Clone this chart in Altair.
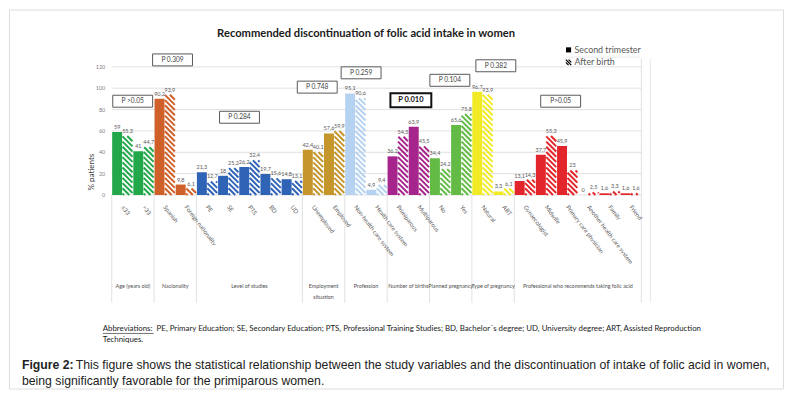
import altair as alt
import pandas as pd

# ---------------- data ----------------
groups = ["Age (years old)", "Nacionality", "Level of studies", "Employment", "Profession",
          "Number of births", "Planned pregnancy", "Type of pregnancy",
          "Professional who recommends taking folic acid"]
groups_line2 = ["", "", "", "situation", "", "", "", "", ""]
group_sizes = [2, 2, 5, 2, 2, 2, 2, 2, 6]
group_colors = ["#22a84a", "#d0602a", "#2f63b6", "#c4962b", "#b5d2f0",
                "#a6258c", "#63bb46", "#f2ea24", "#e3262b"]
categories = ["≤33", ">33", "Spanish", "Foreign nationality", "PE", "SE", "PTS", "BD", "UD",
              "Unemployed", "Employed", "Non-health care system", "Health care system",
              "Primiparous", "Multiparous", "No", "Yes", "Natural", "ART",
              "Gynaecologist", "Midwife", "Primary care physician", "Another health care system",
              "Family", "Friend"]
second_trimester = [59, 41, 90.2, 9.8, 21.3, 18, 26.2, 19.7, 14.8, 42.4, 57.6, 95.1, 4.9,
                    36.2, 63.9, 34.4, 65.6, 96.7, 3.3, 13.1, 37.7, 45.9, 0, 1.6, 1.6]
after_birth = [55.3, 44.7, 93.9, 6.1, 12.7, 25.2, 32.4, 15.6, 13.1, 40.1, 59.9, 90.6, 9.4,
               54.5, 45.5, 24.2, 75.8, 93.9, 6.1, 14.3, 55.3, 23, 2.5, 3.3, 1.6]
p_labels = ["P >0.05", "P 0.309", "P 0.284", "P 0.748", "P 0.259", "P 0.010",
            "P 0.104", "P 0.382", "P>0.05"]
p_bold = [False, False, False, False, False, True, False, False, False]
p_x = [0.99, 2.87, 6.03, 9.70, 11.77, 14.12, 15.96, 18.13, 21.19]   # category units
p_y = [87.8, 126.5, 72.8, 101, 114.4, 88.7, 107.4, 121, 87.8]       # % units
y_ticks = [0, 20, 40, 60, 80, 100, 120]

title_text = "Recommended discontinuation of folic acid intake in women"
legend_labels = ["Second trimester", "After birth"]
y_title = "% patients"
abbr_head = "Abbreviations:"
abbr_line1 = ("PE, Primary Education; SE, Secondary Education; PTS, Professional Training Studies; "
              "BD, Bachelor´s degree; UD, University degree; ART, Assisted Reproduction")
abbr_line2 = "Techniques."
caption_head = "Figure 2:"
caption_line1 = ("This figure shows the statistical relationship between the study variables and the "
                 "discontinuation of intake of folic acid in women,")
caption_line2 = "being significantly favorable for the primiparous women."

# ---------------- layout (page pixel positions -> view pixels) ----------------
W, H = 776, 380
OX, OY = 9, 9


def px(x):
    return x - OX


def py(y):
    return y - OY


N = len(categories)
X0, X1 = px(112), px(643)
Y0, Y1 = py(195), py(66.5)
xs = alt.Scale(domain=[0, N], range=[X0, X1], nice=False, zero=False)
ys = alt.Scale(domain=[0, 120], range=[Y0, Y1], nice=False, zero=False)
PPX = (X1 - X0) / N      # pixels per category
PPY = (Y0 - Y1) / 120    # pixels per percent

FONT = "Lato"
cat_group = [g for g, n in enumerate(group_sizes) for _ in range(n)]
cat_color = [group_colors[g] for g in cat_group]


def fmt(v):
    return f"{v:g}".replace(".", ",")


# solid bars
solid = pd.DataFrame({
    "x0": [i + 0.02 for i in range(N)],
    "x1": [i + 0.49 for i in range(N)],
    "v": second_trimester,
    "base": [0] * N,
    "color": cat_color,
})

# hatched bars drawn as clipped diagonal stripes
stripes = []
HW = 0.47
D = HW * PPX / PPY          # drop (in %) across the bar width for a 45 degree stripe
S = 5.2 / PPY               # vertical spacing of stripes
for i, v in enumerate(after_birth):
    if v <= 0:
        continue
    hx0 = i + 0.51
    c = S * 0.3
    while c < v + D:
        t0 = max(0.0, (c - v) / D)
        t1 = min(1.0, c / D)
        if t1 > t0:
            stripes.append({"x": hx0 + t0 * HW, "y": c - D * t0,
                            "x2": hx0 + t1 * HW, "y2": c - D * t1, "color": cat_color[i]})
        c += S
stripes = pd.DataFrame(stripes)

vlabels = pd.DataFrame({
    "x": [i + 0.255 for i in range(N)] + [i + 0.745 for i in range(N)],
    "v": second_trimester + after_birth,
    "t": [fmt(v) for v in second_trimester + after_birth],
})

cats = pd.DataFrame({"x": [i + 0.5 for i in range(N)], "t": categories})

bounds = [0]
for n in group_sizes:
    bounds.append(bounds[-1] + n)
divs = pd.DataFrame({"b": bounds})
glab = pd.DataFrame({"x": [(bounds[k] + bounds[k + 1]) / 2 for k in range(len(groups))],
                     "t": groups, "t2": groups_line2})

pdat = pd.DataFrame({"x": p_x, "y": p_y, "t": p_labels, "bold": p_bold})
pn = pdat[~pdat.bold]
pb = pdat[pdat.bold]

ticks = pd.DataFrame({"t": y_ticks})
one = pd.DataFrame({"a": [0]})


def txt(text, x, y, **kw):
    return alt.Chart(one).mark_text(**kw).encode(
        x=alt.value(px(x)), y=alt.value(py(y)), text=alt.value(text))


def hline(x1, x2, y, color="#d9d9d9", w=0.8):
    return alt.Chart(one).mark_rule(color=color, strokeWidth=w).encode(
        x=alt.value(px(x1)), x2=alt.value(px(x2)), y=alt.value(py(y)))


def vline(x, y1, y2, color="#d9d9d9", w=0.8):
    return alt.Chart(one).mark_rule(color=color, strokeWidth=w).encode(
        x=alt.value(px(x)), y=alt.value(py(y1)), y2=alt.value(py(y2)))


panel = alt.Chart(one).mark_rect(color="white").encode(
    x=alt.value(px(78)), x2=alt.value(px(716)), y=alt.value(py(20)), y2=alt.value(py(346)))

grid = alt.Chart(ticks).mark_rule(color="#d9d9d9", strokeWidth=0.8).encode(
    y=alt.Y("t:Q", scale=ys, axis=None), x=alt.value(X0), x2=alt.value(X1))
ytl = alt.Chart(ticks).mark_text(align="right", baseline="middle", fontSize=5.5,
                                 color="#7f7f7f", font=FONT).encode(
    y=alt.Y("t:Q", scale=ys, axis=None), x=alt.value(px(105.5)), text="t:Q")

dividers = alt.Chart(divs).mark_rule(color="#d9d9d9", strokeWidth=0.8).encode(
    x=alt.X("b:Q", scale=xs, axis=None), y=alt.value(py(195)), y2=alt.value(py(303)))

solid_bars = alt.Chart(solid).mark_rect().encode(
    x=alt.X("x0:Q", scale=xs, axis=None), x2="x1:Q",
    y=alt.Y("v:Q", scale=ys, axis=None), y2="base:Q",
    color=alt.Color("color:N", scale=None))

hatch = alt.Chart(stripes).mark_rule(strokeWidth=2.0).encode(
    x=alt.X("x:Q", scale=xs, axis=None), x2="x2:Q",
    y=alt.Y("y:Q", scale=ys, axis=None), y2="y2:Q",
    color=alt.Color("color:N", scale=None))

value_labels = alt.Chart(vlabels).mark_text(baseline="bottom", dy=-2, fontSize=5.5,
                                            color="#595959", font=FONT).encode(
    x=alt.X("x:Q", scale=xs, axis=None), y=alt.Y("v:Q", scale=ys, axis=None), text="t:N")

cat_labels = alt.Chart(cats).mark_text(angle=53, align="left", baseline="middle", fontSize=6,
                                       color="#595959", font=FONT).encode(
    x=alt.X("x:Q", scale=xs, axis=None), y=alt.value(py(206)), text="t:N")

grp1 = alt.Chart(glab).mark_text(baseline="middle", fontSize=5.4, color="#505050",
                                 font=FONT).encode(
    x=alt.X("x:Q", scale=xs, axis=None), y=alt.value(py(286)), text="t:N")
grp2 = alt.Chart(glab).mark_text(baseline="middle", fontSize=5.4, color="#505050",
                                 font=FONT).encode(
    x=alt.X("x:Q", scale=xs, axis=None), y=alt.value(py(297)), text="t2:N")

BOX = "M-1,-0.3H1V0.3H-1Z"
BOXB = "M-1,-0.34H1V0.34H-1Z"
pboxes = alt.Chart(pn).mark_point(shape=BOX, filled=True, fill="white", stroke="#595959",
                                  strokeWidth=1, opacity=1, size=40 * 40).encode(
    x=alt.X("x:Q", scale=xs, axis=None), y=alt.Y("y:Q", scale=ys, axis=None))
ptext = alt.Chart(pn).mark_text(fontSize=6.6, color="#404040", font=FONT).encode(
    x=alt.X("x:Q", scale=xs, axis=None), y=alt.Y("y:Q", scale=ys, axis=None), text="t:N")
pboxb = alt.Chart(pb).mark_point(shape=BOXB, filled=True, fill="white", stroke="#111111",
                                 strokeWidth=2, opacity=1, size=41 * 41).encode(
    x=alt.X("x:Q", scale=xs, axis=None), y=alt.Y("y:Q", scale=ys, axis=None))
ptextb = alt.Chart(pb).mark_text(fontSize=7.5, fontWeight="bold", color="#111111",
                                 font=FONT).encode(
    x=alt.X("x:Q", scale=xs, axis=None), y=alt.Y("y:Q", scale=ys, axis=None), text="t:N")

legend_sq = alt.Chart(one).mark_point(shape="square", filled=True, color="black",
                                      opacity=1, size=26).encode(
    x=alt.value(px(570)), y=alt.value(py(49.5)))
legend_hatch = alt.Chart(one).mark_point(shape="M-1,-1L1,1M-1,0L0,1M0,-1L1,0", filled=False,
                                         color="black", strokeWidth=1.3, opacity=1,
                                         size=30).encode(
    x=alt.value(px(570)), y=alt.value(py(62)))

ABBR_FS = 7.9
HEAD_W = 51   # width of the underlined head at ABBR_FS

layers = [
    panel,
    grid, ytl, dividers,
    vline(643, 58, 195), vline(652, 58, 303, color="#e3e3e3"), hline(567, 642, 56.7, color="#e3e3e3"),
    solid_bars, hatch, value_labels, cat_labels, grp1, grp2,
    pboxes, ptext, pboxb, ptextb,
    legend_sq, legend_hatch,
    txt(legend_labels[0], 576, 50, align="left", baseline="middle", fontSize=8.9,
        color="#595959", font=FONT),
    txt(legend_labels[1], 576, 62, align="left", baseline="middle", fontSize=8.9,
        color="#595959", font=FONT),
    txt(title_text, 367, 34, align="center", baseline="middle", fontSize=11.2,
        fontWeight="bold", color="#1a1a1a", font=FONT),
    txt(y_title, 92, 172, align="center", baseline="middle", angle=270, fontSize=8,
        color="#404040", font=FONT),
    txt(abbr_head, 103, 329, align="left", baseline="middle", fontSize=ABBR_FS,
        color="#1a1a1a", font=FONT),
    hline(103, 103 + HEAD_W, 333.8, color="#1a1a1a", w=0.6),
    txt(abbr_line1, 103 + HEAD_W + 3, 329, align="left", baseline="middle", fontSize=ABBR_FS,
        color="#1a1a1a", font=FONT),
    txt(abbr_line2, 103, 340, align="left", baseline="middle", fontSize=ABBR_FS,
        color="#1a1a1a", font=FONT),
    txt(caption_head, 22, 365, align="left", baseline="middle", fontSize=12.3,
        fontWeight="bold", color="#222222", font="Liberation Sans"),
    txt(caption_line1, 76, 365, align="left", baseline="middle", fontSize=12.3,
        color="#222222", font="Liberation Sans"),
    txt(caption_line2, 22, 381, align="left", baseline="middle", fontSize=12.3,
        color="#222222", font="Liberation Sans"),
]

chart = alt.layer(*layers).properties(
    width=W, height=H, padding=1,
    autosize=alt.AutoSizeParams(type="none"),
).configure_view(
    fill="#efefef", stroke="#4d4d4d", strokeWidth=1.3, cornerRadius=13
).configure(background="white")

chart.save("out.html", embed_options={"renderer": "svg", "actions": False})
